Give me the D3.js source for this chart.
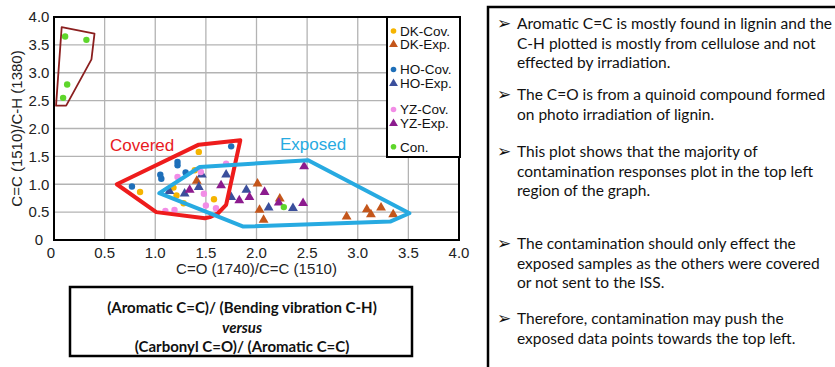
<!DOCTYPE html>
<html>
<head>
<meta charset="utf-8">
<script src="https://cdn.jsdelivr.net/npm/d3@7"></script>
<style>
  html, body { margin: 0; padding: 0; background: #fff; }
  svg { display: block; }
</style>
</head>
<body>
<svg id="chart" width="835" height="367"></svg>
<script>
// ---- data ----
var xTicks = [0, 0.5, 1.0, 1.5, 2.0, 2.5, 3.0, 3.5, 4.0];
var yTicks = [0, 0.5, 1.0, 1.5, 2.0, 2.5, 3.0, 3.5, 4.0];

var dkCov = [[0.85,0.86],[1.43,1.58],[1.39,1.25],[1.18,0.94],[1.21,0.80],[1.28,0.66],[1.58,0.73]];
var dkExp = [[1.41,1.06],[2.01,1.01],[2.03,0.54],[2.07,0.36],[2.23,0.74],[2.89,0.42],[3.09,0.55],[3.13,0.46],[3.23,0.58],[3.35,0.46]];
var hoCov = [[0.77,0.96],[1.22,1.40],[1.22,1.34],[1.05,1.17],[1.06,1.10],[1.30,1.21],[1.75,1.68]];
var hoExp = [[1.14,0.875],[1.46,1.17],[1.43,0.95],[1.29,0.83],[1.70,1.17],[1.75,0.77],[1.90,0.90],[2.12,0.58],[2.36,0.57]];
var yzCov = [[1.22,1.13],[1.48,0.83],[1.19,0.54],[1.60,0.57],[1.70,1.37],[1.50,0.62],[1.10,0.52],[1.45,1.22]];
var yzExp = [[1.34,0.90],[1.65,0.98],[1.83,0.71],[1.93,0.77],[2.08,0.86],[2.22,0.67],[2.46,0.66],[2.47,1.32]];
var con   = [[0.11,3.65],[0.32,3.59],[0.13,2.79],[0.09,2.55],[2.27,0.59]];

var conHull     = [[0.076,3.82],[0.40,3.70],[0.37,3.24],[0.12,2.41],[0.02,2.41]];
var coveredHull = [[0.62,1.00],[1.01,0.50],[1.49,0.39],[1.54,0.41],[1.62,0.48],[1.70,0.63],[1.84,1.79],[1.43,1.71]];
var exposedHull = [[1.04,0.84],[1.44,1.31],[2.51,1.43],[3.51,0.48],[3.32,0.33],[1.87,0.24]];

var seriesNames = ["DK-Cov.", "DK-Exp.", "HO-Cov.", "HO-Exp.", "YZ-Cov.", "YZ-Exp.", "Con."];

var bullets = [
  ["Aromatic C=C is mostly found in lignin and the", "C-H plotted is mostly from cellulose and not", "effected by irradiation."],
  ["The C=O is from a quinoid compound formed", "on photo irradiation of lignin."],
  ["This plot shows that the majority of", "contamination responses plot in the top left", "region of the graph."],
  ["The contamination should only effect the", "exposed samples as the others were covered", "or not sent to the ISS."],
  ["Therefore, contamination may push the", "exposed data points towards the top left."]
];

var captionLines = ["(Aromatic C=C)/ (Bending vibration C-H)", "versus", "(Carbonyl C=O)/ (Aromatic C=C)"];

// ---- styles ----
var series = [
  { name: seriesNames[0], data: dkCov, shape: "dot", color: "#F5B400" },
  { name: seriesNames[1], data: dkExp, shape: "tri", color: "#C4561B" },
  { name: seriesNames[2], data: hoCov, shape: "dot", color: "#1E6FB9" },
  { name: seriesNames[3], data: hoExp, shape: "tri", color: "#3B4F9C" },
  { name: seriesNames[4], data: yzCov, shape: "dot", color: "#F28DE6" },
  { name: seriesNames[5], data: yzExp, shape: "tri", color: "#8C1B8E" },
  { name: seriesNames[6], data: con,   shape: "dot", color: "#5ED62B" }
];

var svg = d3.select("#chart");
var axisFont = "'Liberation Sans', Arial, sans-serif";
var textFont = "Lato, 'Open Sans', sans-serif";

var x = d3.scaleLinear().domain([0, 4]).range([54, 459]);
var y = d3.scaleLinear().domain([0, 4]).range([240, 17]);

// grid
svg.append("g").selectAll("line").data(xTicks.slice(1, -1)).join("line")
  .attr("x1", function(d) { return x(d); }).attr("x2", function(d) { return x(d); })
  .attr("y1", y(0)).attr("y2", y(4))
  .attr("stroke", "#b3b3b3").attr("stroke-width", 1.3);
svg.append("g").selectAll("line").data(yTicks.slice(1, -1)).join("line")
  .attr("y1", function(d) { return y(d); }).attr("y2", function(d) { return y(d); })
  .attr("x1", x(0)).attr("x2", x(4))
  .attr("stroke", "#b3b3b3").attr("stroke-width", 1.3);

// frame
svg.append("rect")
  .attr("x", x(0)).attr("y", y(4))
  .attr("width", x(4) - x(0)).attr("height", y(0) - y(4))
  .attr("fill", "none").attr("stroke", "#000").attr("stroke-width", 2);

// tick labels
svg.append("g").selectAll("text").data(xTicks).join("text")
  .attr("x", function(d) { return d === 0 ? x(d) - 3 : x(d); })
  .attr("y", 258)
  .attr("text-anchor", "middle")
  .style("font-family", axisFont).style("font-size", "15px").attr("fill", "#222")
  .text(function(d) { return d === 0 ? "0" : d3.format(".1f")(d); });

svg.append("g").selectAll("text").data(yTicks).join("text")
  .attr("x", 39)
  .attr("y", function(d) { return y(d); })
  .attr("dy", "0.35em")
  .attr("text-anchor", "middle")
  .style("font-family", axisFont).style("font-size", "15px").attr("fill", "#222")
  .text(function(d) { return d === 0 ? "0" : d3.format(".1f")(d); });

// axis titles
svg.append("text")
  .attr("x", x(2)).attr("y", 274)
  .attr("text-anchor", "middle")
  .style("font-family", axisFont).style("font-size", "15px").attr("fill", "#222")
  .text("C=O (1740)/C=C (1510)");

svg.append("text")
  .attr("transform", "translate(22," + ((y(0) + y(4)) / 2) + ") rotate(-90)")
  .attr("text-anchor", "middle")
  .style("font-family", axisFont).style("font-size", "15px").attr("fill", "#222")
  .text("C=C (1510)/C-H (1380)");

// hulls
var line = d3.line()
  .x(function(d) { return x(d[0]); })
  .y(function(d) { return y(d[1]); })
  .curve(d3.curveLinearClosed);

svg.append("path").attr("d", line(conHull))
  .attr("fill", "none").attr("stroke", "#8B1F1F").attr("stroke-width", 1.8).attr("stroke-linejoin", "round");

// points
var tri = d3.symbol().type(d3.symbolTriangle).size(42);
series.forEach(function(s) {
  var g = svg.append("g");
  if (s.shape === "dot") {
    g.selectAll("circle").data(s.data).join("circle")
      .attr("cx", function(d) { return x(d[0]); })
      .attr("cy", function(d) { return y(d[1]); })
      .attr("r", 3.2).attr("fill", s.color);
  } else {
    g.selectAll("path").data(s.data).join("path")
      .attr("d", tri)
      .attr("transform", function(d) { return "translate(" + x(d[0]) + "," + y(d[1]) + ")"; })
      .attr("fill", s.color);
  }
});

svg.append("path").attr("d", line(coveredHull))
  .attr("fill", "none").attr("stroke", "#EE1C1C").attr("stroke-width", 4).attr("stroke-linejoin", "round");
svg.append("path").attr("d", line(exposedHull))
  .attr("fill", "none").attr("stroke", "#27AAE1").attr("stroke-width", 4).attr("stroke-linejoin", "round");

svg.append("text").attr("x", 110).attr("y", 151)
  .style("font-family", axisFont).style("font-size", "17px").attr("fill", "#E8191E")
  .text("Covered");
svg.append("text").attr("x", 280).attr("y", 150)
  .style("font-family", axisFont).style("font-size", "17px").attr("fill", "#27AAE1")
  .text("Exposed");

// legend
var legY = [31, 44.5, 69.5, 83.5, 109.5, 123.5, 146.7];
var leg = svg.append("g");
leg.append("rect").attr("x", 387).attr("y", 17).attr("width", 73).attr("height", 140)
  .attr("fill", "#fff").attr("stroke", "#000").attr("stroke-width", 2);
series.forEach(function(s, i) {
  if (s.shape === "dot") {
    leg.append("circle").attr("cx", 393.5).attr("cy", legY[i]).attr("r", 2.8).attr("fill", s.color);
  } else {
    leg.append("path").attr("d", d3.symbol().type(d3.symbolTriangle).size(34))
      .attr("transform", "translate(393.5," + legY[i] + ")").attr("fill", s.color);
  }
  leg.append("text").attr("x", 400).attr("y", legY[i]).attr("dy", "0.36em")
    .style("font-family", axisFont).style("font-size", "13.5px").attr("fill", "#111")
    .text(s.name);
});

// caption box
svg.append("rect").attr("x", 70).attr("y", 287).attr("width", 342).attr("height", 69)
  .attr("fill", "#fff").attr("stroke", "#000").attr("stroke-width", 2.5);
var capY = [313, 333, 352];
captionLines.forEach(function(t, i) {
  svg.append("text").attr("x", 242).attr("y", capY[i])
    .attr("text-anchor", "middle")
    .style("font-family", textFont).style("font-size", "15px").style("font-weight", "bold")
    .style("font-style", i === 1 ? "italic" : "normal").attr("fill", "#111")
    .text(t);
});

// notes panel
svg.append("rect").attr("x", 488).attr("y", 7).attr("width", 400).attr("height", 400)
  .attr("fill", "#fff").attr("stroke", "#000").attr("stroke-width", 2.5);
var bulletStart = [29, 100, 157, 249, 324];
bullets.forEach(function(lines, b) {
  svg.append("text").attr("x", 497).attr("y", bulletStart[b])
    .style("font-family", "'DejaVu Sans', sans-serif").style("font-size", "17px").attr("fill", "#111")
    .text("\u27A2");
  lines.forEach(function(t, i) {
    svg.append("text").attr("x", 517).attr("y", bulletStart[b] + i * 19.5)
      .style("font-family", textFont).style("font-size", "15.5px").attr("fill", "#111")
      .text(t);
  });
});
</script>
</body>
</html>
